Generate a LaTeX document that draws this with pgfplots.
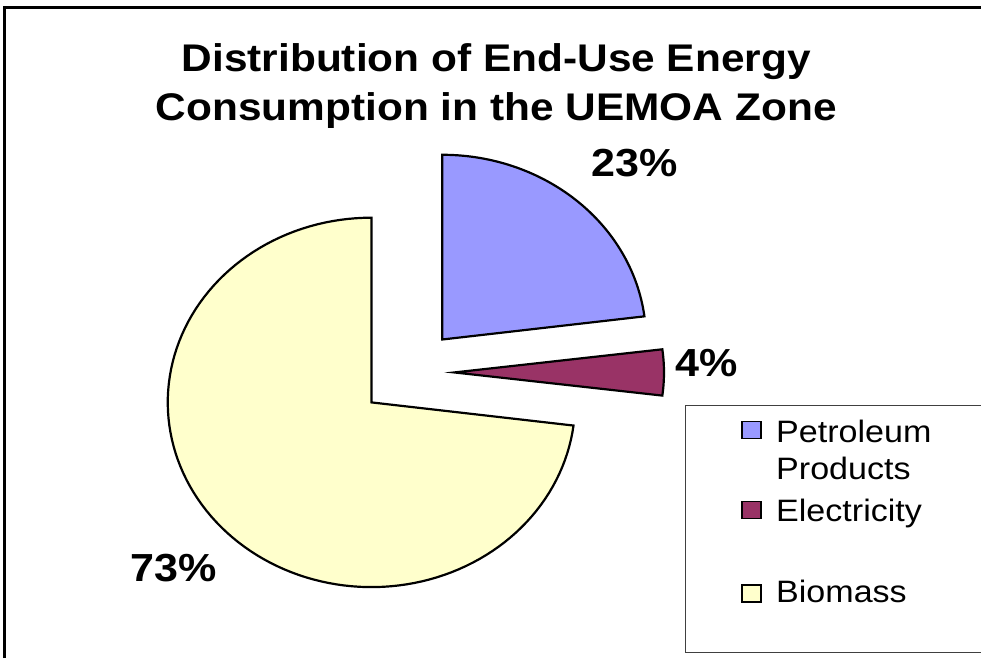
\documentclass[border=0pt]{standalone}
\usepackage{pgfplots}
\pgfplotsset{compat=1.18}
\usepackage{fontspec}
\setmainfont{Liberation Sans}[FakeStretch=1.1]
\definecolor{petro}{HTML}{9999FF}
\definecolor{elec}{HTML}{993366}
\definecolor{bio}{HTML}{FFFFCC}
\begin{document}
\begin{tikzpicture}
\begin{axis}[scale only axis, width=491pt, height=329.5pt,
  xmin=0, xmax=982, ymin=0, ymax=659, y dir=reverse,
  hide axis, clip=false, samples=120]
\path (0,0) rectangle (982,659);
% outer frame
\draw[line width=1.5pt, black] (5,659) -- (5,8) -- (982,8);
% Biomass 73% : 90 -> 90+262.8
\addplot[fill=bio, draw=black, line width=1.1pt, domain=90:352.8]
  ({372+204*cos(x)},{403-185*sin(x)}) -- (372,403) -- cycle;
% Petroleum Products 23% : 7.2 -> 90 (exploded)
\addplot[fill=petro, draw=black, line width=1.1pt, domain=7.2:90]
  ({443+204*cos(x)},{340-185*sin(x)}) -- (443,340) -- cycle;
% Electricity 4% : -7.2 -> 7.2 (exploded)
\addplot[fill=elec, draw=black, line width=1.1pt, domain=-7.2:7.2]
  ({455+210*cos(x)},{373-185*sin(x)}) -- (455,373) -- cycle;
% title
\node[font=\fontsize{19.3}{23}\selectfont\bfseries, anchor=base, inner sep=0] at (497,72) {Distribution of End-Use Energy};
\node[font=\fontsize{19.3}{23}\selectfont\bfseries, anchor=base, inner sep=0] at (497,121) {Consumption in the UEMOA Zone};
% data labels
\node[font=\fontsize{19.6}{23}\selectfont\bfseries, anchor=base west, inner sep=0] at (592,177) {23\%};
\node[font=\fontsize{19.6}{23}\selectfont\bfseries, anchor=base west, inner sep=0] at (676,377) {4\%};
\node[font=\fontsize{19.6}{23}\selectfont\bfseries, anchor=base west, inner sep=0] at (130,582) {73\%};
% legend
\draw[line width=0.5pt, black!75] (982,406) -- (687,406) -- (687,653) -- (982,653);
\draw[fill=petro, line width=0.7pt] (743,422) rectangle (762,439);
\draw[fill=elec, line width=0.7pt] (743,502) rectangle (762,519);
\draw[fill=bio, line width=0.7pt] (743,586) rectangle (762,603);
\node[font=\fontsize{15.5}{18}\selectfont, anchor=base west, inner sep=0] at (777,443) {Petroleum};
\node[font=\fontsize{15.5}{18}\selectfont, anchor=base west, inner sep=0] at (777,480) {Products};
\node[font=\fontsize{15.5}{18}\selectfont, anchor=base west, inner sep=0] at (777,522) {Electricity};
\node[font=\fontsize{15.5}{18}\selectfont, anchor=base west, inner sep=0] at (777,603) {Biomass};
\end{axis}
\end{tikzpicture}
\end{document}
